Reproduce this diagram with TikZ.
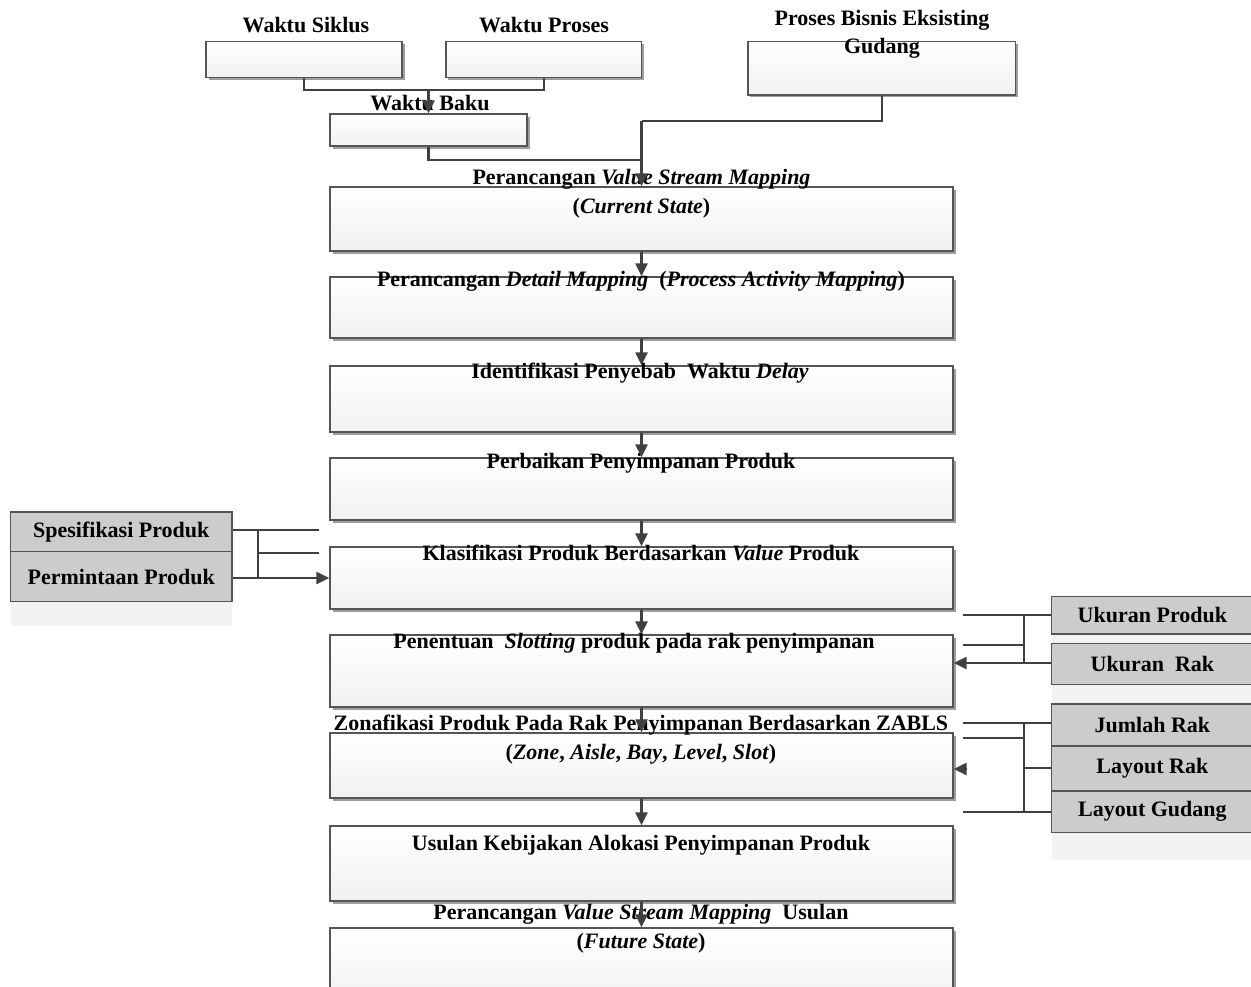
\documentclass[tikz,border=0pt]{standalone}
\usepackage{fontspec}
\setmainfont{Liberation Serif}
\usetikzlibrary{shadows,arrows.meta,calc}
\definecolor{ln}{HTML}{404040}
\definecolor{bx}{HTML}{555555}
\definecolor{gbox}{HTML}{CCCCCC}
\definecolor{lite}{HTML}{F2F2F2}
\begin{document}
\begin{tikzpicture}[x=1pt,y=-1pt,
  box/.style={draw=bx, line width=1.3pt, top color=white, bottom color=gray!11, inner sep=0pt,
    drop shadow={shadow xshift=2.5pt, shadow yshift=-2.5pt, fill=black!38, opacity=1}},
  gbx/.style={draw=bx, line width=1.3pt, fill=gbox, inner sep=0pt, font=\bfseries\fontsize{22}{26}\selectfont},
  lbl/.style={font=\bfseries\fontsize{22}{29}\selectfont, align=center, inner sep=0pt},
  con/.style={draw=ln, line width=2.2pt},
  arr/.style={con, -{Triangle[length=13pt,width=12pt]}},
]
\useasboundingbox (0,0) rectangle (1251,986);
\fill[white] (0,0) rectangle (1251,986);

% light backgrounds behind side boxes
\fill[lite] (10.7,600) rectangle (232,626);
\fill[lite] (1051.7,632) rectangle (1260,860);

% top boxes
\node[box, minimum width=196pt, minimum height=35.6pt] (ws) at (304,59.5) {};
\node[box, minimum width=195.7pt, minimum height=35.6pt] (wp) at (543.8,59.5) {};
\node[box, minimum width=197pt, minimum height=32pt] (wb) at (428.5,130) {};
\node[box, minimum width=267.7pt, minimum height=53.3pt] (pb) at (881.8,68.3) {};

% main boxes
\node[box, minimum width=623pt, minimum height=64pt] (b1) at (641.5,219) {};
\node[box, minimum width=623pt, minimum height=61pt] (b2) at (641.5,307.5) {};
\node[box, minimum width=623pt, minimum height=66pt] (b3) at (641.5,399) {};
\node[box, minimum width=623pt, minimum height=62pt] (b4) at (641.5,489) {};
\node[box, minimum width=623pt, minimum height=62pt] (b5) at (641.5,578) {};
\node[box, minimum width=623pt, minimum height=72pt] (b6) at (641.5,671) {};
\node[box, minimum width=623pt, minimum height=65pt] (b7) at (641.5,765.5) {};
\node[box, minimum width=623pt, minimum height=75pt] (b8) at (641.5,863.5) {};
\node[box, minimum width=623pt, minimum height=82pt] (b9) at (641.5,969) {};

% gray input boxes
\node[gbx, minimum width=221.3pt, minimum height=39.7pt] (spes) at (121.3,531.8) {Spesifikasi Produk};
\node[gbx, minimum width=221.3pt, minimum height=50pt] (perm) at (121.3,576.7) {Permintaan Produk};
\node[gbx, minimum width=201.3pt, minimum height=37.3pt] (ukp) at (1152.4,615.3) {Ukuran Produk};
\node[gbx, minimum width=201.3pt, minimum height=41pt] (ukr) at (1152.4,663.8) {Ukuran\ \ Rak};
\node[gbx, minimum width=201.3pt, minimum height=42pt] (jr) at (1152.4,725) {Jumlah Rak};
\node[gbx, minimum width=201.3pt, minimum height=45pt] (lr) at (1152.4,768.5) {Layout Rak};
\node[gbx, minimum width=201.3pt, minimum height=41.3pt] (lg) at (1152.4,811.7) {Layout Gudang};

% labels
\node[lbl] (tws) at (306,25) {Waktu Siklus};
\node[lbl] (twp) at (544,25) {Waktu Proses};
\node[lbl] (twb) at (430,103) {Waktu Baku};
\node[lbl, font=\bfseries\fontsize{22}{28}\selectfont] (tpb) at (882,34) {Proses Bisnis Eksisting\\Gudang};
\node[lbl] (t1) at (641.5,194) {Perancangan \textit{Value Stream Mapping}\\(\textit{Current State})};
\node[lbl] (t2) at (641,281) {Perancangan \textit{Detail Mapping}\ \ (\textit{Process Activity Mapping})};
\node[lbl] (t3) at (640,373) {Identifikasi Penyebab\ \ Waktu \textit{Delay}};
\node[lbl] (t4) at (641,463) {Perbaikan Penyimpanan Produk};
\node[lbl] (t5) at (641,553) {Klasifikasi Produk Berdasarkan \textit{Value} Produk};
\node[lbl] (t6) at (634,643) {Penentuan\ \ \textit{Slotting} produk pada rak penyimpanan};
\node[lbl] (t7) at (641,740) {Zonafikasi Produk Pada Rak Penyimpanan Berdasarkan ZABLS\\(\textit{Zone}, \textit{Aisle}, \textit{Bay}, \textit{Level}, \textit{Slot})};
\node[lbl] (t8) at (641,845) {Usulan Kebijakan Alokasi Penyimpanan Produk};
\node[lbl] (t9) at (641,929) {Perancangan \textit{Value Stream Mapping}\ \ Usulan\\(\textit{Future State})};

% top connectors
\coordinate (jt) at (428.5,90);
\draw[con] (ws.south) |- (jt) -| (wp.south);
\draw[arr] (jt) -- (wb.north);
\coordinate (jv) at (641.5,121);
\coordinate (jw) at (641.5,160);
\draw[con] (pb.south) |- (jv);
\draw[con] (wb.south) |- (jw);
\draw[arr] (jv) -- (b1.north);

% main chain
\draw[arr] (b1.south) -- (b2.north);
\draw[arr] (b2.south) -- (b3.north);
\draw[arr] (b3.south) -- (b4.north);
\draw[arr] (b4.south) -- (b5.north);
\draw[arr] (b5.south) -- (b6.north);
\draw[arr] (b6.south) -- (b7.north);
\draw[arr] (b7.south) -- (b8.north);
\draw[arr] (b8.south) -- (b9.north);

% left inputs
\coordinate (lf1) at (319,530);
\coordinate (lj1) at (258,530);
\coordinate (lj2) at (258,553);
\coordinate (lf2) at (319,553);
\coordinate (lj3) at (258,578);
\draw[con] (lj1 -| spes.east) -- (lf1);
\draw[con] (lj1) -- (lj3);
\draw[con] (lj2) -- (lf2);
\draw[arr] (lj3 -| perm.east) -- (lj3 -| b5.west);

% right inputs, group 1
\coordinate (rf1) at (963,615);
\coordinate (rj1) at (1024,615);
\coordinate (rj2) at (1024,645);
\coordinate (rf2) at (963,645);
\coordinate (rj3) at (1024,663);
\draw[con] (rj1 -| ukp.west) -- (rf1);
\draw[con] (rj1) -- (rj3);
\draw[con] (rj2) -- (rf2);
\draw[arr] (rj3 -| ukr.west) -- (rj3 -| b6.east);

% right inputs, group 2
\coordinate (rf3) at (963,723);
\coordinate (rk1) at (1024,723);
\coordinate (rk2) at (1024,738);
\coordinate (rf4) at (963,738);
\coordinate (rk3) at (1024,768);
\coordinate (rk4) at (1024,812);
\coordinate (rf5) at (963,812);
\coordinate (ah) at (967,769);
\draw[con] (rk1 -| jr.west) -- (rf3);
\draw[con] (rk1) -- (rk4);
\draw[con] (rk2) -- (rf4);
\draw[con] (rk3 -| lr.west) -- (rk3);
\draw[con] (rk4 -| lg.west) -- (rf5);
\draw[arr] (ah) -- (ah -| b7.east);
\end{tikzpicture}
\end{document}
